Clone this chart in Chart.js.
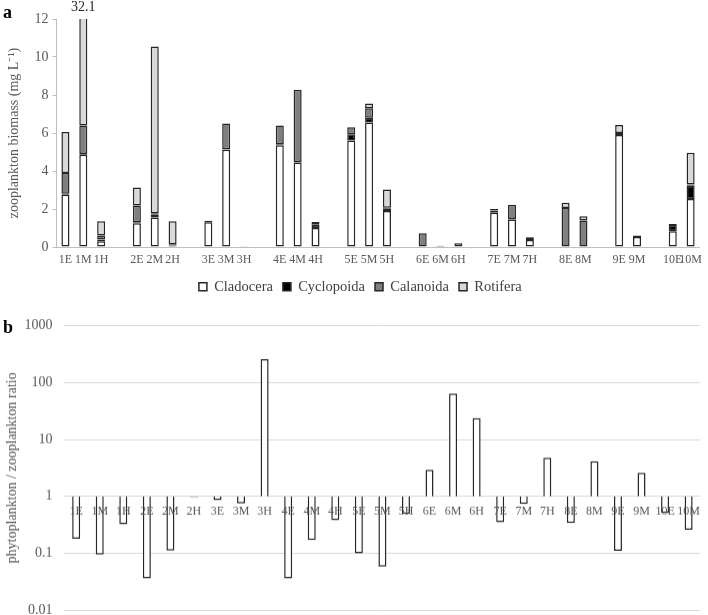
<!DOCTYPE html>
<html>
<head>
<meta charset="utf-8">
<script src="https://cdn.jsdelivr.net/npm/chart.js@4.4.1/dist/chart.umd.min.js"></script>
<style>
  html, body { margin: 0; padding: 0; background: #ffffff; }
  body { width: 708px; height: 615px; position: relative; overflow: hidden; font-family: "Liberation Serif", serif; }
  .wrap { position: absolute; left: 0; }
  #wrapA { top: 0; width: 708px; height: 304px; }
  #wrapB { top: 310px; width: 708px; height: 307.5px; }
  .panel { position: absolute; font-family: "Liberation Serif", serif; font-weight: bold; color: #000; font-size: 18px; line-height: 1; }
</style>
</head>
<body>
<div class="wrap" id="wrapA"><canvas id="chartA"></canvas></div>
<div class="wrap" id="wrapB"><canvas id="chartB"></canvas></div>
<div class="panel" style="left:3px; top:3px;">a</div>
<div class="panel" style="left:3px; top:318px;">b</div>
<script>
// ---------- Panel a: zooplankton biomass (mg L-1), stacked ----------
const topLabels = ['1E','1M','1H','','2E','2M','2H','','3E','3M','3H','','4E','4M','4H','','5E','5M','5H','','6E','6M','6H','','7E','7M','7H','','8E','8M','','9E','9M','','10E','10M'];
const cladocera  = [2.75, 4.85, 0.30, null, 1.25, 1.55, 0.08, null, 1.30, 5.12, 0.04, null, 5.35, 4.45, 1.00, null, 5.60, 6.55, 1.90, null, 0,    0.03, 0.20, null, 1.80, 1.45, 0.37, null, 0,    0,    null, 5.90, 0.52, null, 0.83, 2.52];
const cyclopoida = [0.05, 0.05, 0.10, null, 0.05, 0.15, 0.07, null, 0.08, 0.03, 0,    null, 0.06, 0.02, 0.17, null, 0.33, 0.25, 0.14, null, 0,    0.04, 0,    null, 0.12, 0.03, 0.12, null, 0,    0.02, null, 0.10, 0.08, null, 0.33, 0.70];
const calanoida  = [1.10, 1.50, 0.20, null, 0.88, 0.08, 0,    null, 0,    1.35, 0,    null, 0.98, 3.80, 0.15, null, 0.37, 0.50, 0.02, null, 0.72, 0,    0,    null, 0.08, 0.75, 0.04, null, 2.05, 1.38, null, 0,    0,    null, 0.05, 0.07];
const rotifera   = [2.15, 25.7, 0.75, null, 0.95, 8.77, 1.20, null, 0,    0,    0,    null, 0,    0,    0,    null, 0,    0.25, 0.97, null, 0,    0,    0,    null, 0,    0,    0,    null, 0.28, 0.22, null, 0.42, 0,    null, 0,    1.67];
const topTicks = [0, 2, 4, 6, 8, 10, 12];
const offScaleNote = { label: '1M', text: '32.1' };

// ---------- Panel b: phytoplankton / zooplankton ratio (log) ----------
const bottomLabels = ['1E','1M','1H','2E','2M','2H','3E','3M','3H','4E','4M','4H','5E','5M','5H','6E','6M','6H','7E','7M','7H','8E','8M','9E','9M','10E','10M'];
const ratio = [0.18, 0.095, 0.325, 0.036, 0.111, 0.97, 0.86, 0.75, 258, 0.036, 0.17, 0.38, 0.10, 0.058, 0.49, 2.92, 64, 23.8, 0.35, 0.74, 4.76, 0.34, 4.15, 0.11, 2.59, 0.51, 0.26];
const bottomTicks = [0.01, 0.1, 1, 10, 100, 1000];

const SERIF = '"Liberation Serif", "Times New Roman", serif';
const GRAY = '#595959';
const EDGE = '#262626';

function nz(arr) { return arr.map(v => (v ? v : null)); }

function seg(label, data, fill) {
  return {
    label, data: nz(data), backgroundColor: fill, borderColor: EDGE, borderWidth: 1.5,
    borderSkipped: false, categoryPercentage: 1.0, barPercentage: 0.45, stack: 's'
  };
}

const notePlugin = {
  id: 'note',
  afterLayout(chart) {
    if (chart.legend) { chart.legend.left += 8; chart.legend.right += 8; }
  },
  afterDraw(chart) {
    const xs = chart.scales.x;
    const idx = topLabels.indexOf(offScaleNote.label);
    const ctx = chart.ctx;
    ctx.save();
    ctx.font = '14px ' + SERIF;
    ctx.fillStyle = '#262626';
    ctx.textAlign = 'center';
    ctx.textBaseline = 'middle';
    ctx.fillText(offScaleNote.text, xs.getPixelForValue(idx), chart.chartArea.top - 12);
    ctx.restore();
  }
};

new Chart(document.getElementById('chartA'), {
  type: 'bar',
  data: {
    labels: topLabels,
    datasets: [
      seg('Cladocera', cladocera, '#ffffff'),
      seg('Cyclopoida', cyclopoida, '#000000'),
      seg('Calanoida', calanoida, '#7f7f7f'),
      seg('Rotifera', rotifera, '#d9d9d9')
    ]
  },
  options: {
    responsive: true, maintainAspectRatio: false, animation: false,
    layout: { padding: { left: 0, right: 3.3, top: 19, bottom: 0 } },
    plugins: {
      tooltip: { enabled: false },
      legend: {
        position: 'bottom',
        labels: { boxWidth: 8, boxHeight: 8, padding: 10, color: '#404040', font: { family: SERIF, size: 14.5 } }
      }
    },
    scales: {
      x: {
        stacked: true,
        grid: { display: false, drawTicks: false },
        border: { display: true, color: '#bfbfbf', width: 1 },
        ticks: { autoSkip: false, maxRotation: 0, minRotation: 0, padding: 6, color: GRAY, font: { family: SERIF, size: 12 } },
        afterFit: s => { s.height = 22.5; }
      },
      y: {
        stacked: true, min: 0, max: 12,
        afterBuildTicks: s => { s.ticks = topTicks.map(v => ({ value: v })); },
        grid: { drawOnChartArea: false, drawTicks: true, tickLength: 4, color: '#bfbfbf' },
        border: { display: true, color: '#bfbfbf', width: 1 },
        ticks: { padding: 4, color: GRAY, font: { family: SERIF, size: 14 } },
        title: { display: true, text: 'zooplankton biomass (mg L\u207B\u00B9)', color: GRAY, font: { family: SERIF, size: 14 }, padding: { top: 6, bottom: 0 } },
        afterFit: s => { s.width = 56.5; }
      }
    }
  },
  plugins: [notePlugin]
});

new Chart(document.getElementById('chartB'), {
  type: 'bar',
  data: {
    labels: bottomLabels,
    datasets: [{
      label: 'ratio',
      data: ratio.map(v => [1, v]),
      backgroundColor: '#ffffff', borderColor: EDGE, borderWidth: 1.5,
      borderSkipped: ctx => (ratio[ctx.dataIndex] < 1 ? 'top' : 'bottom'),
      categoryPercentage: 1.0, barPercentage: 0.34
    }]
  },
  options: {
    responsive: true, maintainAspectRatio: false, animation: false,
    layout: { padding: { left: 0, right: 1.8, top: 15.7, bottom: 6 } },
    plugins: { tooltip: { enabled: false }, legend: { display: false } },
    scales: {
      x: {
        position: { y: 1 },
        grid: { display: false, drawTicks: false },
        border: { display: false },
        ticks: { z: 1, autoSkip: false, maxRotation: 0, minRotation: 0, padding: 8, color: GRAY, font: { family: SERIF, size: 12 } },
        afterFit: s => { s.height = 0; }
      },
      y: {
        type: 'logarithmic', min: 0.01, max: 1000,
        afterBuildTicks: s => { s.ticks = bottomTicks.map(v => ({ value: v })); },
        grid: { color: '#d9d9d9', lineWidth: 1, drawTicks: true, tickLength: 12, tickColor: 'rgba(0,0,0,0)' },
        border: { display: false },
        ticks: { padding: 0, color: GRAY, font: { family: SERIF, size: 14 }, callback: v => String(v) },
        title: { display: true, text: 'phytoplankton / zooplankton ratio', color: GRAY, font: { family: SERIF, size: 14 }, padding: { top: 4, bottom: 0 } },
        afterFit: s => { s.width = 64.4; }
      }
    }
  }
});
</script>
</body>
</html>
